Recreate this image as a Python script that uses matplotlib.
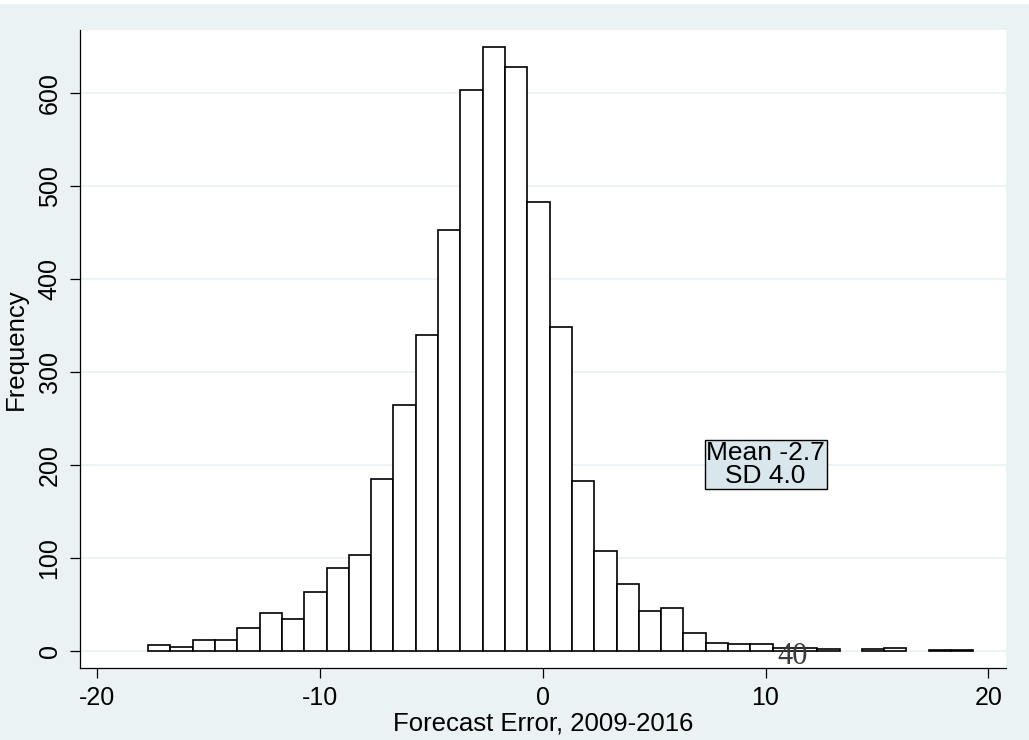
import matplotlib
matplotlib.use("Agg")
import matplotlib.pyplot as plt
from matplotlib.patches import Rectangle
import numpy as np

# histogram of forecast errors
bin_start = -17.71
bin_width = 1.001
counts = [6, 4, 12, 12, 24, 41, 34, 63, 89, 103,
          185, 264, 339, 452, 603, 649, 628, 482, 348, 182,
          107, 72, 43, 46, 19, 8, 7, 7, 3, 3,
          2, 0, 2, 3, 0, 1, 1]
x_ticks = [-20, -10, 0, 10, 20]
y_ticks = [0, 100, 200, 300, 400, 500, 600]
stats_text = "Mean -2.7\nSD 4.0"
stray_label = "40"

bg = "#eaf2f3"
plt.rcParams["font.family"] = ["Liberation Sans", "DejaVu Sans"]
plt.rcParams["axes.unicode_minus"] = False

fig = plt.figure(figsize=(10.29, 7.40), dpi=100, facecolor=bg)
ax = fig.add_axes([0.0777, 0.0977, 0.8997, 0.8618])
ax.set_facecolor("white")

counts = np.array(counts)
lefts = bin_start + bin_width * np.arange(len(counts))
keep = counts > 0
ax.bar(lefts[keep], counts[keep], width=bin_width, align="edge",
       color="white", edgecolor="black", linewidth=1.2, zorder=2)

ax.set_xlim(-20.77, 20.78)
ax.set_ylim(-18.3, 667.4)
ax.set_xticks(x_ticks)
ax.set_yticks(y_ticks)
ax.set_yticklabels([str(v) for v in y_ticks], rotation=90, va="center")
ax.grid(axis="y", color=bg, linewidth=1.3, zorder=0)
ax.set_axisbelow(True)

for s in ["top", "right"]:
    ax.spines[s].set_visible(False)
for s in ["left", "bottom"]:
    ax.spines[s].set_linewidth(0.9)
ax.tick_params(axis="both", length=7.2, width=0.9, labelsize=18, pad=6)

ax.set_xlabel("Forecast Error, 2009-2016", fontsize=18.5, labelpad=1)
ax.set_ylabel("Frequency", fontsize=18.5)
ax.yaxis.set_label_coords(-0.0562, 0.5)

ax.text(10, 200, stats_text, ha="center", va="center", fontsize=19,
        linespacing=0.92, zorder=4,
        bbox=dict(boxstyle="square,pad=0.06", facecolor="#d9e6eb",
                  edgecolor="black", linewidth=1.0))

ax.text(11.19, -13.8, stray_label, ha="center", va="baseline", fontsize=22,
        color="#3a3a3a", family=["Liberation Serif", "DejaVu Serif"], zorder=5)

# thin white strip along the top edge of the image
fig.patches.append(Rectangle((0, 1 - 4 / 740), 1, 4 / 740, transform=fig.transFigure,
                             facecolor="white", edgecolor="none"))

fig.savefig("out.png", dpi=100, facecolor=bg)
